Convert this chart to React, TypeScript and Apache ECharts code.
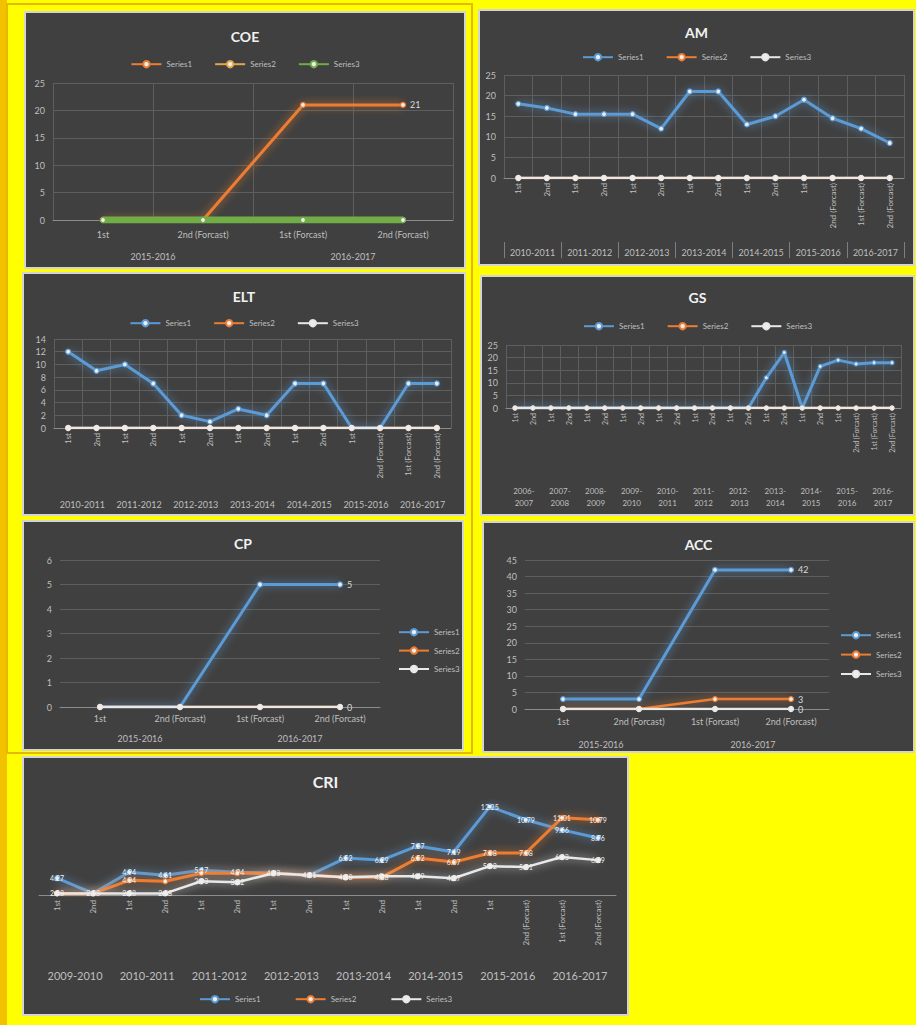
import React, { useEffect, useRef } from "react";
import * as echarts from "echarts";

const FONT = "Lato, 'Open Sans', 'DejaVu Sans', sans-serif";
const BLUE = "#5B9BD5";
const ORANGE = "#ED7D31";
const LIGHT = "#E8E8E8";
const GOLD = "#E4A64A";
const GREEN = "#70AD47";
const TEXT = "#BFBFBF";
const GRIDC = "#5E5E5E";
const PANEL_BG = "#404040";

// ---------- COE ----------
const coeCategories = ["1st", "2nd (Forcast)", "1st (Forcast)", "2nd (Forcast)"];
const coeGroups = ["2015-2016", "2016-2017"];
const coeSeries1 = [0, 0, 21, 21];
const coeSeries2 = [0, 0, 0, 0];
const coeSeries3 = [0, 0, 0, 0];
const coeY = [0, 25, 5];

// ---------- AM ----------
const amCategories = ["1st", "2nd", "1st", "2nd", "1st", "2nd", "1st", "2nd", "1st", "2nd", "1st", "2nd (Forcast)", "1st (Forcast)", "2nd (Forcast)"];
const amGroups = ["2010-2011", "2011-2012", "2012-2013", "2013-2014", "2014-2015", "2015-2016", "2016-2017"];
const amSeries1 = [18, 17, 15.5, 15.5, 15.5, 12, 21, 21, 13, 15, 19, 14.5, 12, 8.5];
const amSeries2 = [0, 0, 0, 0, 0, 0, 0, 0, 0, 0, 0, 0, 0, 0];
const amSeries3 = [0, 0, 0, 0, 0, 0, 0, 0, 0, 0, 0, 0, 0, 0];
const amY = [0, 25, 5];

// ---------- ELT ----------
const eltCategories = ["1st", "2nd", "1st", "2nd", "1st", "2nd", "1st", "2nd", "1st", "2nd", "1st", "2nd (Forcast)", "1st (Forcast)", "2nd (Forcast)"];
const eltGroups = ["2010-2011", "2011-2012", "2012-2013", "2013-2014", "2014-2015", "2015-2016", "2016-2017"];
const eltSeries1 = [12, 9, 10, 7, 2, 1, 3, 2, 7, 7, 0, 0, 7, 7];
const eltSeries2 = [0, 0, 0, 0, 0, 0, 0, 0, 0, 0, 0, 0, 0, 0];
const eltSeries3 = [0, 0, 0, 0, 0, 0, 0, 0, 0, 0, 0, 0, 0, 0];
const eltY = [0, 14, 2];

// ---------- GS ----------
const gsCategories = ["1st", "2nd", "1st", "2nd", "1st", "2nd", "1st", "2nd", "1st", "2nd", "1st", "2nd", "1st", "2nd", "1st", "2nd", "1st", "2nd", "1st", "2nd (Forcast)", "1st (Forcast)", "2nd (Forcast)"];
const gsGroups = ["2006-\n2007", "2007-\n2008", "2008-\n2009", "2009-\n2010", "2010-\n2011", "2011-\n2012", "2012-\n2013", "2013-\n2014", "2014-\n2015", "2015-\n2016", "2016-\n2017"];
const gsSeries1 = [0, 0, 0, 0, 0, 0, 0, 0, 0, 0, 0, 0, 0, 0, 12, 22, 0, 16.5, 19, 17.5, 18, 18];
const gsSeries2 = [0, 0, 0, 0, 0, 0, 0, 0, 0, 0, 0, 0, 0, 0, 0, 0, 0, 0, 0, 0, 0, 0];
const gsSeries3 = [0, 0, 0, 0, 0, 0, 0, 0, 0, 0, 0, 0, 0, 0, 0, 0, 0, 0, 0, 0, 0, 0];
const gsY = [0, 25, 5];

// ---------- CP ----------
const cpCategories = ["1st", "2nd (Forcast)", "1st (Forcast)", "2nd (Forcast)"];
const cpGroups = ["2015-2016", "2016-2017"];
const cpSeries1 = [0, 0, 5, 5];
const cpSeries2 = [0, 0, 0, 0];
const cpSeries3 = [0, 0, 0, 0];
const cpY = [0, 6, 1];

// ---------- ACC ----------
const accCategories = ["1st", "2nd (Forcast)", "1st (Forcast)", "2nd (Forcast)"];
const accGroups = ["2015-2016", "2016-2017"];
const accSeries1 = [3, 3, 42, 42];
const accSeries2 = [0, 0, 3, 3];
const accSeries3 = [0, 0, 0, 0];
const accY = [0, 45, 5];

// ---------- CRI ----------
const criCategories = ["1st", "2nd", "1st", "2nd", "1st", "2nd", "1st", "2nd", "1st", "2nd", "1st", "2nd", "1st", "2nd (Forcast)", "1st (Forcast)", "2nd (Forcast)"];
const criGroups = ["2009-2010", "2010-2011", "2011-2012", "2012-2013", "2013-2014", "2014-2015", "2015-2016", "2016-2017"];
const criSeries1 = [4.27, 2.58, 4.94, 4.61, 5.17, 4.94, 4.83, 4.61, 6.52, 6.29, 7.87, 7.19, 12.25, 10.79, 9.66, 8.76];
const criSeries2 = [2.58, 2.58, 4.04, 3.93, 4.83, 4.83, 4.83, 4.61, 4.38, 4.38, 6.52, 6.07, 7.08, 7.08, 11.01, 10.79];
const criSeries3 = [2.58, 2.58, 2.58, 2.58, 3.93, 3.82, 4.83, 4.61, 4.38, 4.49, 4.49, 4.27, 5.62, 5.51, 6.63, 6.29];
const criY = [2.4, 14];

const seriesNames = ["Series1", "Series2", "Series3"];

type SOpt = { labelLast?: boolean; labelAll?: boolean; width?: number; symbolSize?: number; z?: number };

function alpha(hex: string, a: number) {
  const n = parseInt(hex.slice(1), 16);
  return `rgba(${(n >> 16) & 255},${(n >> 8) & 255},${n & 255},${a})`;
}

function line(name: string, data: number[], color: string, o: SOpt = {}) {
  const lbl = { show: true, position: "right", distance: 4, color: "#D9D9D9", fontSize: 9, fontFamily: FONT };
  // a flat line has a zero-height box, and an SVG shadow filter would hide it
  const flat = data.every((v) => v === data[0]);
  const glow = flat ? {} : { shadowBlur: 8, shadowColor: alpha(color, 0.8) };
  return {
    type: "line",
    name,
    data: data.map((v, i) => (o.labelLast && i === data.length - 1 ? { value: v, label: lbl } : v)),
    symbol: "circle",
    symbolSize: o.symbolSize ?? 5,
    lineStyle: { color, width: o.width ?? 2.5, ...glow },
    itemStyle: { color: "#EDEDED", borderColor: color, borderWidth: 1.2 },
    label: o.labelAll
      ? { show: true, position: "inside", color: "#F2F2F2", fontSize: 7, fontFamily: FONT }
      : { show: false },
    labelLayout: o.labelAll ? { hideOverlap: true } : undefined,
    emphasis: { disabled: true },
    z: o.z ?? 2,
  };
}

function valueAxis(range: number[], show = true) {
  return {
    type: "value",
    min: range[0],
    max: range[1],
    interval: range[2],
    axisLabel: { show, color: TEXT, fontSize: 9, margin: 8, fontFamily: FONT },
    axisLine: { show: false },
    axisTick: { show: false },
    splitLine: { show, lineStyle: { color: GRIDC, width: 1 } },
  };
}

function catAxis(data: string[], o: { rotate?: number; fontSize?: number; margin?: number; vgrid?: boolean }) {
  return {
    type: "category",
    data,
    boundaryGap: true,
    axisLine: { show: true, lineStyle: { color: "#8C8C8C" } },
    axisTick: { show: false },
    axisLabel: {
      color: TEXT,
      fontSize: o.fontSize ?? 9,
      interval: 0,
      rotate: o.rotate ?? 0,
      margin: o.margin ?? 8,
      fontFamily: FONT,
    },
    splitLine: { show: !!o.vgrid, interval: 0, lineStyle: { color: GRIDC } },
  };
}

function groupAxis(data: string[], offset: number, o: { ticks?: boolean; fontSize?: number; lineHeight?: number } = {}) {
  return {
    type: "category",
    data,
    position: "bottom",
    offset,
    boundaryGap: true,
    axisLine: { show: false },
    axisTick: { show: !!o.ticks, length: 16, interval: 0, lineStyle: { color: "#7F7F7F" } },
    axisLabel: {
      color: TEXT,
      fontSize: o.fontSize ?? 9,
      interval: 0,
      margin: 4,
      lineHeight: o.lineHeight ?? 12,
      fontFamily: FONT,
    },
    splitLine: { show: false },
  };
}

function title(text: string, top: number, size = 14) {
  return {
    text,
    left: "center",
    top,
    textStyle: { color: "#F2F2F2", fontSize: size, fontWeight: "bold", fontFamily: FONT },
  };
}

function topLegend(top: number, gap = 22) {
  return {
    data: seriesNames,
    top,
    left: "center",
    itemWidth: 30,
    itemHeight: 8,
    itemGap: gap,
    textStyle: { color: TEXT, fontSize: 8, fontFamily: FONT },
  };
}

function sideLegend(left: number, top: number, gap: number) {
  return {
    data: seriesNames,
    orient: "vertical",
    left,
    top,
    itemWidth: 30,
    itemHeight: 8,
    itemGap: gap,
    textStyle: { color: TEXT, fontSize: 8, fontFamily: FONT },
  };
}

const base = { animation: false, backgroundColor: "transparent", textStyle: { fontFamily: FONT } };

const coeOption = {
  ...base,
  title: title("COE", 11),
  legend: topLegend(42),
  grid: { left: 27, right: 11, top: 70, bottom: 47 },
  xAxis: [catAxis(coeCategories, { margin: 10, vgrid: true }), groupAxis(coeGroups, 26)],
  yAxis: valueAxis(coeY),
  series: [
    line("Series1", coeSeries1, ORANGE, { labelLast: true, width: 3, z: 2 }),
    line("Series2", coeSeries2, GOLD, { width: 3, z: 3 }),
    line("Series3", coeSeries3, GREEN, { width: 7, z: 4 }),
  ],
};

const amOption = {
  ...base,
  title: title("AM", 9),
  legend: topLegend(37),
  grid: { left: 24, right: 9, top: 64, bottom: 86 },
  xAxis: [catAxis(amCategories, { rotate: 90, fontSize: 8, margin: 5, vgrid: true }), groupAxis(amGroups, 64, { ticks: true })],
  yAxis: valueAxis(amY),
  series: [
    line("Series1", amSeries1, BLUE, { width: 3 }),
    line("Series2", amSeries2, ORANGE, { z: 3 }),
    line("Series3", amSeries3, LIGHT, { z: 4 }),
  ],
};

const eltOption = {
  ...base,
  title: title("ELT", 10),
  legend: topLegend(40),
  grid: { left: 30, right: 13, top: 65, bottom: 86 },
  xAxis: [catAxis(eltCategories, { rotate: 90, fontSize: 8, margin: 5, vgrid: true }), groupAxis(eltGroups, 66)],
  yAxis: valueAxis(eltY),
  series: [
    line("Series1", eltSeries1, BLUE, { width: 3 }),
    line("Series2", eltSeries2, ORANGE, { z: 3 }),
    line("Series3", eltSeries3, LIGHT, { z: 4 }),
  ],
};

const gsOption = {
  ...base,
  title: title("GS", 8),
  legend: topLegend(40),
  grid: { left: 24, right: 12, top: 68, bottom: 106 },
  xAxis: [catAxis(gsCategories, { rotate: 90, fontSize: 7, margin: 5, vgrid: true }), groupAxis(gsGroups, 73, { fontSize: 8, lineHeight: 12 })],
  yAxis: valueAxis(gsY),
  series: [
    line("Series1", gsSeries1, BLUE, { width: 3, symbolSize: 4 }),
    line("Series2", gsSeries2, ORANGE, { symbolSize: 4, z: 3 }),
    line("Series3", gsSeries3, LIGHT, { symbolSize: 4, z: 4 }),
  ],
};

const cpOption = {
  ...base,
  title: title("CP", 9),
  legend: sideLegend(369, 101, 10),
  grid: { left: 36, right: 82, top: 38, bottom: 42 },
  xAxis: [catAxis(cpCategories, { margin: 7 }), groupAxis(cpGroups, 21)],
  yAxis: valueAxis(cpY),
  series: [
    line("Series1", cpSeries1, BLUE, { labelLast: true, width: 3 }),
    line("Series2", cpSeries2, ORANGE, { z: 3 }),
    line("Series3", cpSeries3, LIGHT, { labelLast: true, z: 4 }),
  ],
};

const accOption = {
  ...base,
  title: title("ACC", 9),
  legend: sideLegend(351, 103, 11),
  grid: { left: 41, right: 84, top: 37, bottom: 42 },
  xAxis: [catAxis(accCategories, { margin: 8 }), groupAxis(accGroups, 25)],
  yAxis: valueAxis(accY),
  series: [
    line("Series1", accSeries1, BLUE, { labelLast: true, width: 3 }),
    line("Series2", accSeries2, ORANGE, { labelLast: true, z: 3 }),
    line("Series3", accSeries3, LIGHT, { labelLast: true, z: 4 }),
  ],
};

const criOption = {
  ...base,
  title: title("CRI", 10, 16),
  legend: topLegend(232, 34),
  grid: { left: 15, right: 11, top: 33, bottom: 119 },
  xAxis: [catAxis(criCategories, { rotate: 90, fontSize: 8, margin: 5 }), groupAxis(criGroups, 70, { fontSize: 11 })],
  yAxis: {
    type: "value",
    min: criY[0],
    max: criY[1],
    axisLabel: { show: false },
    axisLine: { show: false },
    axisTick: { show: false },
    splitLine: { show: false },
  },
  series: [
    line("Series1", criSeries1, BLUE, { width: 3, labelAll: true }),
    line("Series2", criSeries2, ORANGE, { width: 3, labelAll: true }),
    line("Series3", criSeries3, LIGHT, { labelAll: true }),
  ],
};

function Panel(props: { left: number; top: number; width: number; height: number; option: any }) {
  const ref = useRef<HTMLDivElement>(null);
  useEffect(() => {
    if (!ref.current) return;
    const chart = echarts.init(ref.current, undefined, { renderer: "svg" });
    chart.setOption(props.option);
    return () => chart.dispose();
  }, []);
  const { left, top, width, height } = props;
  return (
    <div
      style={{
        position: "absolute",
        left,
        top,
        width,
        height,
        boxSizing: "border-box",
        border: "2px solid #D4D4D4",
        background: PANEL_BG,
      }}
    >
      <div ref={ref} style={{ width: width - 4, height: height - 4 }} />
    </div>
  );
}

export default function App() {
  return (
    <div
      style={{
        position: "absolute",
        left: 0,
        top: 0,
        width: 916,
        height: 1025,
        background: "#FFFF00",
        overflow: "hidden",
      }}
    >
      <div style={{ position: "absolute", left: 0, top: 0, width: 7, height: 1025, background: "#F2C200" }} />
      <div style={{ position: "absolute", left: 6, top: 3, width: 467, height: 751, boxSizing: "border-box", border: "2px solid #E8B800" }} />
      <Panel left={24} top={11} width={442} height={258} option={coeOption} />
      <Panel left={478} top={9} width={437} height={257} option={amOption} />
      <Panel left={22} top={272} width={444} height={244} option={eltOption} />
      <Panel left={480} top={275} width={435} height={241} option={gsOption} />
      <Panel left={22} top={520} width={442} height={231} option={cpOption} />
      <Panel left={482} top={521} width={433} height={232} option={accOption} />
      <Panel left={22} top={756} width={607} height={260} option={criOption} />
    </div>
  );
}
